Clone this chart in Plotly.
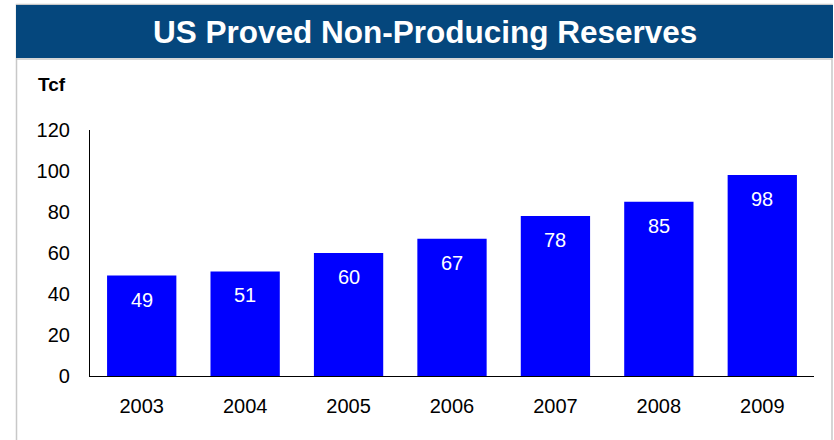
import plotly.graph_objects as go

years = ["2003", "2004", "2005", "2006", "2007", "2008", "2009"]
reserves = [49, 51, 60, 67, 78, 85, 98]
y_ticks = [0, 20, 40, 60, 80, 100, 120]

title_text = "US Proved Non-Producing Reserves"
unit_text = "Tcf"

W, H = 834, 440
L, R, T, B = 90, 20, 130, 64
pw, ph = W - L - R, H - T - B

def px_x(px):
    return (px - L) / pw

def px_y(py):
    return (H - B - py) / ph

FONT = "Liberation Sans, Arial"

fig = go.Figure()
fig.add_trace(go.Bar(
    x=years, y=reserves, marker=dict(color="#0000FF", line=dict(width=0)),
    hoverinfo="x+y",
))

for i, v in enumerate(reserves):
    fig.add_annotation(x=i, y=v, xref="x", yref="y", text=str(v), showarrow=False, yshift=-24,
                       font=dict(color="white", size=20, family=FONT))

shapes = [
    dict(type="rect", xref="paper", yref="paper", x0=px_x(16.5), x1=px_x(832), y0=px_y(460), y1=px_y(4.5),
         line=dict(color="#C8C8C8", width=1.5), fillcolor="rgba(0,0,0,0)", layer="below"),
    dict(type="rect", xref="paper", yref="paper", x0=px_x(16), x1=px_x(833), y0=px_y(58), y1=px_y(5),
         line=dict(width=0), fillcolor="#05477D", layer="below"),
    dict(type="line", xref="paper", yref="paper", x0=px_x(17), x1=px_x(832), y0=px_y(59), y1=px_y(59),
         line=dict(color="#C8C8C8", width=1.5)),
]

fig.add_annotation(xref="paper", yref="paper", x=px_x(425), y=px_y(32), text="<b>" + title_text + "</b>",
                   showarrow=False, font=dict(color="white", size=31.5, family=FONT),
                   xanchor="center", yanchor="middle")
fig.add_annotation(xref="paper", yref="paper", x=px_x(36), y=px_y(84), text="<b>" + unit_text + "</b>",
                   showarrow=False, font=dict(color="black", size=19, family=FONT),
                   xanchor="left", yanchor="middle")

fig.update_layout(
    width=W, height=H,
    margin=dict(l=L, r=R, t=T, b=B, pad=0, autoexpand=False),
    paper_bgcolor="white", plot_bgcolor="white",
    bargap=0.33, showlegend=False,
    shapes=shapes,
    font=dict(family=FONT, size=20, color="black"),
    xaxis=dict(type="category", categoryorder="array", categoryarray=years, range=[-0.5, len(years) - 0.5],
               showgrid=False, showline=True, linecolor="black", linewidth=1.2,
               ticks="", ticklabelstandoff=12, tickfont=dict(size=20), automargin=False),
    yaxis=dict(range=[0, 120], tickvals=y_ticks, showgrid=False, showline=True, linecolor="black",
               linewidth=1.2, ticks="", ticklabelstandoff=15, zeroline=False, tickfont=dict(size=20),
               automargin=False),
)

fig.write_html("out.html", config={"displayModeBar": False},
               post_script="document.body.style.margin='0';")
